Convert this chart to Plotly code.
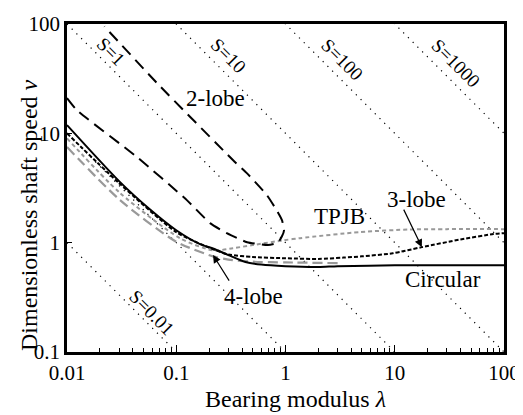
import math
import plotly.graph_objects as go

# ---- data ----
circ_lam = [0.01, 0.0306, 0.058, 0.1, 0.165, 0.22, 0.3, 0.43, 0.6, 1.0, 2.0, 3.0, 10, 100]
circ_v   = [11.9, 3.58, 2.0, 1.3, 0.97, 0.88, 0.77, 0.665, 0.63, 0.61, 0.60, 0.61, 0.62, 0.62]

lobe2_lam = [0.01, 0.0123, 0.0437, 0.125, 0.204, 0.29, 0.445, 0.69, 0.85, 0.93, 0.97, 0.95,
             0.93, 0.85, 0.676, 0.445, 0.33, 0.0667, 0.022]
lobe2_v   = [21, 16.3, 6.07, 2.45, 1.51, 1.22, 1.01, 0.95, 1.0, 1.15, 1.3, 1.45,
             1.6, 1.9, 2.72, 4.3, 5.7, 28.8, 95]

lobe3_lam = [0.01, 0.03, 0.1, 0.2, 0.3, 0.5, 1.0, 2.0, 3.4, 5.0, 9.6, 17.7, 40, 80, 100]
lobe3_v   = [10.0, 3.5, 1.25, 0.9, 0.78, 0.74, 0.72, 0.71, 0.73, 0.75, 0.80, 0.91, 1.07, 1.2, 1.22]

tpjb_lam = [0.01, 0.0306, 0.108, 0.217, 0.33, 0.5, 0.95, 1.36, 4.8, 13.7, 30, 100]
tpjb_v   = [9.0, 2.84, 1.1, 0.85, 0.89, 0.95, 1.05, 1.1, 1.25, 1.32, 1.33, 1.33]

lobe4_lam = [0.01, 0.0306, 0.1, 0.217, 0.3, 0.5, 1.0, 3.0]
lobe4_v   = [7.5, 2.45, 1.02, 0.75, 0.70, 0.67, 0.66, 0.65]

s_values = [0.01, 0.1, 1, 10, 100, 1000]
s_labels = ["S=0.01", "S=1", "S=10", "S=100", "S=1000"]
s_label_pos = [(0.06, 0.232), (0.0253, 56.6), (0.298, 51), (3.29, 46.9), (35.6, 44)]

x_tickvals = [0.01, 0.1, 1, 10, 100]
x_ticktext = ["0.01", "0.1", "1", "10", "100"]
y_tickvals = [0.1, 1, 10, 100]
y_ticktext = ["0.1", "1", "10", "100"]

x_title = "Bearing modulus <i>λ</i>"
y_title = "Dimensionless shaft speed <i>v</i>"

FONT = "Times New Roman, Times, Tinos, Liberation Serif, DejaVu Serif, serif"
# the page body adds an 8px margin, so the figure is sized to fit inside it
W, H = 515, 407
ML, MR, MT, MB = 59, 19, 16, 63
fig = go.Figure()

# S = lambda * v reference lines
lam_edges = [0.01, 100]
for s in s_values:
    fig.add_trace(go.Scatter(x=lam_edges, y=[s / l for l in lam_edges], mode="lines",
                             line=dict(color="black", width=1.2, dash="1.2px,5.5px"),
                             showlegend=False, hoverinfo="skip"))

sm = 0.7
fig.add_trace(go.Scatter(x=lobe4_lam, y=lobe4_v, mode="lines",
                         line=dict(color="#999999", width=2.2, dash="10px,5px", shape="spline", smoothing=sm),
                         showlegend=False))
fig.add_trace(go.Scatter(x=tpjb_lam, y=tpjb_v, mode="lines",
                         line=dict(color="#999999", width=2, dash="4px,3px", shape="spline", smoothing=sm),
                         showlegend=False))
fig.add_trace(go.Scatter(x=circ_lam, y=circ_v, mode="lines",
                         line=dict(color="black", width=2, shape="spline", smoothing=sm),
                         showlegend=False))
fig.add_trace(go.Scatter(x=lobe3_lam, y=lobe3_v, mode="lines",
                         line=dict(color="black", width=2, dash="4px,2px", shape="spline", smoothing=sm),
                         showlegend=False))
fig.add_trace(go.Scatter(x=lobe2_lam, y=lobe2_v, mode="lines",
                         line=dict(color="black", width=2, dash="12px,7px", shape="spline", smoothing=0.5),
                         showlegend=False))

L = math.log10
ann = []
for txt, (lx, ly) in zip(s_labels, s_label_pos):
    ann.append(dict(x=L(lx), y=L(ly), text=txt, showarrow=False, textangle=45,
                    font=dict(family=FONT, size=19, color="black")))

def label(txt, lx, ly):
    ann.append(dict(x=L(lx), y=L(ly), text=txt, showarrow=False,
                    font=dict(family=FONT, size=23, color="black")))

label("2-lobe", 0.231, 21)
label("TPJB", 3.15, 1.75)
label("3-lobe", 15.7, 2.5)
label("Circular", 27.6, 0.465)
label("4-lobe", 0.505, 0.325)

def arrow(tx, ty, fx, fy):
    ann.append(dict(x=L(tx), y=L(ty), ax=L(fx), ay=L(fy), axref="x", ayref="y",
                    xref="x", yref="y", text="", showarrow=True, arrowhead=2,
                    arrowsize=1.3, arrowwidth=1.2, arrowcolor="black"))

arrow(17.7, 0.91, 11.9, 2.07)
arrow(0.217, 0.77, 0.311, 0.436)

# axis titles as paper annotations (placed as in the reference)
pw, ph = W - ML - MR, H - MT - MB
ann.append(dict(xref="paper", yref="paper", x=(287 - ML) / pw, y=(H - MB - 391) / ph,
                text=x_title, showarrow=False, xanchor="center", yanchor="middle",
                font=dict(family=FONT, size=24, color="black")))
ann.append(dict(xref="paper", yref="paper", x=(21 - ML) / pw, y=(H - MB - 207) / ph,
                text=y_title, showarrow=False, xanchor="center", yanchor="middle",
                textangle=-90, font=dict(family=FONT, size=24, color="black")))

minor_vals = [k * 10 ** e for e in range(-2, 2) for k in range(2, 10)]

fig.update_layout(
    width=W, height=H,
    margin=dict(l=ML, r=MR, t=MT, b=MB, autoexpand=False),
    plot_bgcolor="white", paper_bgcolor="white",
    annotations=ann,
    font=dict(family=FONT, color="black"),
    xaxis=dict(type="log", range=[-2, 2], tickvals=x_tickvals, ticktext=x_ticktext,
               showgrid=False, zeroline=False, showline=True, linecolor="black",
               linewidth=2.5, mirror=True, ticks="inside", ticklen=7, tickwidth=1.2,
               tickcolor="black", tickfont=dict(family=FONT, size=21, color="black"),
               automargin=False,
               minor=dict(tickvals=minor_vals, ticks="inside", ticklen=4, tickwidth=1,
                          tickcolor="black", showgrid=False)),
    yaxis=dict(type="log", range=[-1, 2], tickvals=y_tickvals, ticktext=y_ticktext,
               showgrid=False, zeroline=False, showline=True, linecolor="black",
               linewidth=2.5, mirror=True, ticks="inside", ticklen=5, tickwidth=1.2,
               tickcolor="black", tickfont=dict(family=FONT, size=21, color="black"),
               automargin=False),
)

fig.write_html("out.html")
